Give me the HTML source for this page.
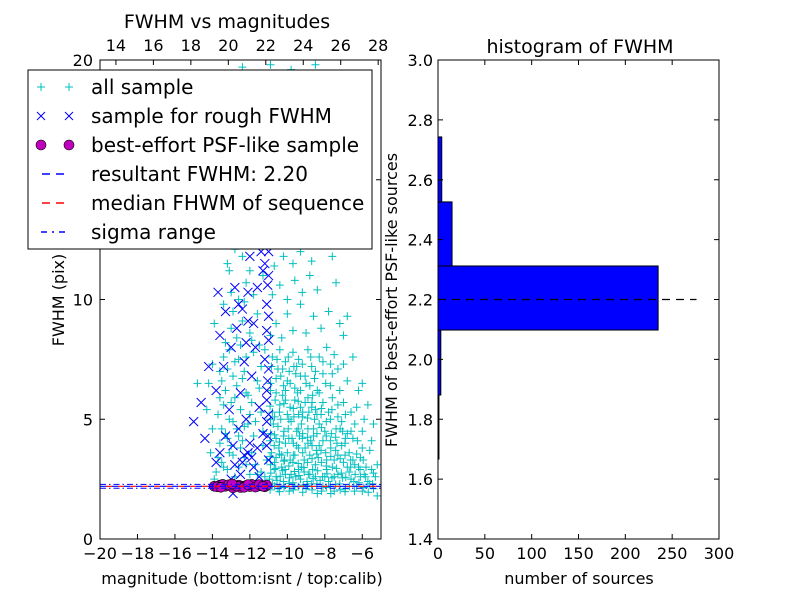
<!DOCTYPE html>
<html><head><meta charset="utf-8">
<style>
html,body{margin:0;padding:0;background:#fff;}
svg{display:block;font-family:"DejaVu Sans","Liberation Sans",sans-serif;}
</style></head>
<body>
<svg id="fig" width="800" height="600" viewBox="0 0 800 600" xmlns="http://www.w3.org/2000/svg">
<rect x="0" y="0" width="800" height="600" fill="#fff"/>
<g id="left"></g>
<g id="right"></g>
</svg>
<script>
// ---------- data: left scatter ----------
const allSample = [
[-10.8,2.3],[-10.5,2.1],[-10.2,2.4],[-9.9,2.0],[-9.6,2.2],[-9.3,2.5],[-9.0,2.1],[-8.7,2.3],[-8.4,1.9],[-8.1,2.2],[-7.8,2.4],[-7.5,2.0],[-7.2,2.3],[-6.9,2.1],[-6.6,2.5],[-6.3,2.2],[-6.0,2.0],[-5.7,2.4],[-5.4,2.1],[-10.6,2.6],[-9.8,2.7],[-9.1,2.8],[-8.5,2.6],[-7.9,2.9],[-7.3,2.7],[-6.7,2.8],[-6.1,2.6],[-5.5,2.9],[-5.2,1.8],
[-10.9,3.1],[-10.6,3.4],[-10.3,3.0],[-10.0,3.6],[-9.7,3.2],[-9.4,3.8],[-9.1,3.3],[-8.8,3.5],[-8.5,3.1],[-8.2,3.7],[-7.9,3.3],[-7.6,3.0],[-7.3,3.5],[-7.0,3.2],[-6.7,3.6],[-6.4,3.1],[-6.1,3.4],[-5.8,3.0],[-10.7,3.9],[-10.1,4.0],[-9.5,3.9],[-8.9,4.0],[-8.3,3.9],[-7.7,4.1],[-7.1,3.9],[-6.5,4.2],[-5.6,3.7],
[-10.9,4.4],[-10.5,4.7],[-10.2,4.3],[-9.8,4.9],[-9.5,4.5],[-9.2,5.1],[-8.9,4.6],[-8.6,4.3],[-8.3,4.8],[-8.0,4.5],[-7.7,5.0],[-7.4,4.6],[-7.1,4.9],[-6.8,4.4],[-6.4,4.8],[-6.0,4.5],[-10.8,5.3],[-10.4,5.6],[-10.0,5.2],[-9.6,5.8],[-9.3,5.5],[-8.9,5.9],[-8.5,5.4],[-8.1,5.7],[-7.8,5.3],[-7.3,5.6],[-6.9,5.2],[-6.3,5.5],[-5.9,5.0],
[-10.9,6.2],[-10.6,6.7],[-10.2,6.4],[-9.9,7.0],[-9.6,6.3],[-9.3,6.8],[-9.0,6.5],[-8.7,7.2],[-8.4,6.2],[-8.1,6.9],[-7.7,6.4],[-7.3,7.1],[-6.8,6.6],[-10.8,7.6],[-10.4,7.9],[-10.1,7.4],[-9.7,7.8],[-9.4,7.5],[-8.9,7.9],[-8.3,7.6],[-7.9,8.0],[-7.5,7.7],
[-10.9,8.5],[-10.6,9.0],[-10.3,8.4],[-10.0,9.4],[-9.7,8.7],[-9.3,9.8],[-9.0,8.6],[-8.6,9.3],[-8.2,8.8],[-7.8,9.5],[-10.8,10.2],[-10.4,10.6],[-10.0,10.0],[-9.6,10.8],[-9.2,10.3],[-8.8,11.0],[-8.4,10.4],[-10.7,11.4],[-10.2,11.8],[-9.7,11.5],[-9.3,12.0],[-8.7,11.6],[-8.0,12.3],[-7.4,10.7],[-6.8,9.3],[-7.0,7.3],
[-10.9,12.6],[-10.5,13.2],[-10.1,12.8],[-9.6,13.6],[-9.1,13.0],[-10.8,14.1],[-10.3,14.6],[-9.8,14.3],[-9.3,15.0],[-8.8,14.5],[-10.6,15.7],[-10.0,16.2],[-9.5,15.9],[-8.9,16.6],[-10.7,17.3],[-10.2,17.9],[-9.6,17.5],[-9.0,18.3],[-10.4,19.0],[-9.8,19.6],[-9.2,19.3],[-8.5,19.8],[-10.9,19.8],[-8.3,17.0],[-7.9,15.3],[-7.5,13.8],[-8.2,13.4],
[-13.8,2.8],[-13.5,3.2],[-13.2,2.9],[-12.9,3.5],[-12.6,3.0],[-12.3,3.4],[-12.0,2.7],[-11.7,3.1],[-11.4,2.8],[-11.1,3.3],[-13.6,4.0],[-13.3,4.4],[-13.0,3.9],[-12.7,4.6],[-12.4,4.1],[-12.1,4.8],[-11.8,4.3],[-11.3,4.5],[-13.7,5.2],[-13.4,5.6],[-13.1,5.0],[-12.8,5.9],[-12.5,5.4],[-12.2,6.1],[-11.9,5.7],[-11.5,6.3],[-13.5,6.6],[-13.2,7.1],[-12.9,6.8],[-12.6,7.5],[-12.3,7.0],[-11.8,7.8],[-11.4,7.2],[-13.3,8.2],[-13.0,8.8],[-12.7,8.4],[-12.4,9.1],[-12.0,8.6],[-11.6,9.4],[-13.4,9.8],[-13.0,10.3],[-12.6,10.0],[-12.2,10.7],[-11.8,10.2],[-11.3,11.0],[-13.2,11.5],[-12.8,12.1],[-12.4,11.8],[-11.9,12.5],[-11.5,12.2],[-13.0,13.3],[-12.5,13.8],[-12.1,13.4],[-11.6,14.2],[-12.9,15.0],[-12.3,15.6],[-11.8,15.2],[-12.6,16.8],[-12.0,17.4],[-11.4,16.5],[-12.8,18.5],[-12.2,19.1],[-11.6,18.8],[-14.2,6.5],[-14.8,6.5],[-14.0,7.3],[-13.9,9.0],[-14.1,3.6],
[-6.2,3.0],[-5.9,2.7],[-5.6,2.3],[-5.3,2.6],[-6.5,3.3],[-6.0,3.8],[-5.5,4.1],[-5.2,3.1],[-6.9,4.2],
[-10.95,2.5],[-10.7,2.9],[-10.4,2.2],[-10.1,2.7],[-9.85,3.3],[-9.55,2.6],[-9.25,3.0],[-8.95,2.4],[-8.65,2.9],[-8.35,3.4],[-10.85,3.6],[-10.45,3.8],[-10.15,3.3],[-9.75,4.2],[-9.35,4.3],[-9.05,3.8],[-8.75,4.1],[-8.45,3.7],[-10.75,4.8],[-10.35,5.0],[-9.95,4.6],[-9.65,5.1],[-9.25,4.8],[-8.85,5.3],[-8.55,5.0],[-10.65,5.8],[-10.25,6.0],[-9.85,5.5],[-9.45,6.1],[-9.05,5.7],[-8.65,6.0],[-10.5,7.1],[-10.0,6.6],[-9.5,7.2],[-7.95,3.6],[-7.65,4.4],[-7.35,4.0],[-7.05,4.5],[-7.5,2.6],[-8.0,2.6],
[-10.55,2.45],[-10.25,2.85],[-9.7,2.35],[-9.4,2.9],[-9.15,2.25],[-8.8,2.7],[-8.25,2.45],[-7.7,2.2],[-7.05,2.55],[-6.45,2.4],[-10.6,4.2],[-10.3,3.5],[-9.6,3.5],[-9.2,4.2],[-8.6,4.6],[-8.1,4.1],[-7.5,3.3],[-6.8,3.0],[-10.9,5.0],[-10.1,5.8],[-9.4,5.2],[-8.7,5.5],[-8.2,5.2],[-7.6,5.9],
[-10.92,2.05],[-10.68,2.2],[-10.42,1.98],[-10.18,2.15],[-9.92,2.32],[-9.68,2.05],[-9.42,2.18],[-9.18,1.95],[-8.92,2.22],[-8.68,2.05],[-8.42,2.3],[-8.18,2.0],[-7.92,2.15],[-7.68,1.9],[-7.42,2.28],[-7.18,2.05],[-6.92,1.98],[-6.68,2.2],[-6.42,2.0],[-6.18,2.35],[-5.92,2.15],[-5.68,1.95],[-5.45,2.3],
[-10.88,2.75],[-10.62,2.95],[-10.38,2.62],[-10.12,2.9],[-9.88,2.55],[-9.62,2.82],[-9.38,2.65],[-9.12,2.98],[-8.88,2.7],[-8.62,2.52],[-8.38,2.85],[-8.12,2.6],[-7.88,2.72],[-7.62,2.55],[-7.38,2.95],[-7.12,2.75],[-6.88,2.58],[-6.62,3.0],[-6.38,2.7],[-6.12,2.9],[-5.82,2.6],[-5.4,2.75],
[-10.92,3.45],[-10.68,3.2],[-10.42,3.55],[-10.18,3.25],[-9.92,3.05],[-9.68,3.5],[-9.42,3.15],[-9.18,3.6],[-8.92,3.2],[-8.68,3.35],[-8.42,3.55],[-8.18,3.2],[-7.92,3.05],[-7.68,3.45],[-7.42,3.7],[-7.18,3.35],[-6.92,3.5],[-6.62,3.3],[-6.3,3.55],[-5.95,3.3],
[-10.92,4.1],[-10.68,4.35],[-10.42,4.05],[-10.18,4.5],[-9.92,4.2],[-9.68,4.0],[-9.42,4.6],[-9.18,4.4],[-8.92,4.25],[-8.68,3.9],[-8.42,4.4],[-8.18,4.65],[-7.92,4.3],[-7.68,3.8],[-7.42,4.25],[-7.18,4.6],[-6.92,4.0],[-6.6,4.5],[-6.25,4.1],
[-10.92,5.55],[-10.68,5.1],[-10.42,5.3],[-10.18,5.65],[-9.92,5.0],[-9.68,5.45],[-9.42,5.75],[-9.18,5.3],[-8.92,5.05],[-8.68,5.7],[-8.42,5.2],[-8.18,5.45],[-7.92,4.9],[-7.62,5.4],[-7.3,5.1],[-7.0,5.7],[-6.6,5.3],
[-10.9,6.5],[-10.6,6.1],[-10.35,6.8],[-10.1,6.2],[-9.85,6.5],[-9.55,6.9],[-9.3,6.2],[-9.05,6.8],[-8.8,6.4],[-8.55,6.7],[-8.3,6.1],[-7.95,6.5],[-7.6,6.9],[-7.2,6.2],
[-10.85,7.2],[-10.55,7.5],[-10.25,7.1],[-9.95,7.6],[-9.65,7.2],[-9.2,7.3],[-8.75,7.6],[-8.5,7.0],[-8.1,7.4],[-7.7,7.3],
[-13.7,3.4],[-13.4,3.0],[-13.1,3.6],[-12.8,2.6],[-12.5,3.8],[-12.2,3.1],[-11.9,3.6],[-11.6,2.7],[-11.3,3.9],[-13.5,4.6],[-13.2,4.2],[-12.9,4.9],[-12.6,4.3],[-12.3,4.7],[-12.0,5.2],[-11.7,4.9],[-11.4,5.3],[-13.6,5.9],[-13.3,6.2],[-13.0,5.7],[-12.7,6.4],[-12.4,6.7],[-12.1,6.0],[-11.6,6.6],[-13.4,7.6],[-13.1,7.9],[-12.8,7.4],[-12.5,8.1],[-12.2,7.6],[-11.9,8.3],[-11.5,8.1],[-13.6,7.0],[-14.0,4.6],[-14.3,5.4],[-13.9,2.5],[-11.2,2.6],[-11.2,7.9],[-12.9,9.5],[-12.3,9.9],[-13.1,11.2],[-12.0,11.2],[-13.4,12.7],[-12.2,14.5],[-13.2,14.2],[-11.4,13.6],[-13.3,17.5],[-11.7,17.9],[-12.4,19.7],[-11.3,19.4],[-8.0,18.8],[-7.6,11.8],[-7.2,9.0],[-6.5,7.6],[-6.2,6.2],[-5.7,5.6],[-5.4,4.8],[-6.0,6.5],[-7.0,8.5]
];
const roughSample = [
[-15.0,4.9],[-14.6,5.7],[-14.4,4.2],[-13.8,3.2],[-13.6,3.6],[-13.3,4.3],[-13.1,5.4],[-12.9,3.9],[-12.8,3.1],[-12.6,4.6],[-12.5,6.1],[-12.3,3.5],[-12.2,5.0],[-12.0,4.0],[-11.9,6.8],[-11.8,3.0],[-11.6,3.8],[-11.5,5.5],[-11.3,4.4],[-11.2,7.5],[-11.1,6.2],[-11.0,3.3],[-13.4,7.2],[-13.0,8.0],[-12.7,8.8],[-12.4,9.6],[-12.1,10.3],[-11.8,9.0],[-11.6,10.5],[-11.3,11.2],[-11.1,9.8],[-11.0,8.3],[-12.0,11.8],[-11.4,12.0],[-11.2,11.5],[-13.3,9.5],[-13.6,8.5],[-12.8,10.5],[-12.3,7.4],[-11.7,8.0],[-11.1,4.9],[-12.7,2.2],[-12.9,1.9],[-11.1,5.8],[-13.8,6.2],[-12.9,12.8],[-11.9,3.4],[-11.5,2.6],[-12.5,2.7],[-13.0,2.5],[-11.0,12.0],[-14.2,7.2],[-13.7,10.3],
[-12.4,3.2],[-12.1,3.6],[-11.1,3.9],[-11.05,4.3],[-11.0,5.2],[-11.05,6.6],[-11.0,7.1],[-11.1,8.7],[-11.0,9.3],[-11.05,10.6],[-11.0,11.0],[-11.1,12.5],[-12.2,8.2],[-12.1,9.1],[-12.6,9.8]
];
const psfSample = [
[-13.9,2.2],[-13.6,2.25],[-13.3,2.2],[-13.0,2.22],[-12.8,2.18],[-12.6,2.25],[-12.4,2.2],[-12.2,2.23],[-12.0,2.19],[-11.8,2.24],[-11.6,2.2],[-11.4,2.22],[-11.2,2.18],[-11.1,2.25],[-13.45,2.28],[-12.9,2.14],[-12.5,2.15],[-11.9,2.28],
[-13.75,2.18],[-13.15,2.26],[-12.7,2.21],[-12.3,2.16],[-12.1,2.27],[-11.7,2.17],[-11.5,2.27],[-11.3,2.2],[-13.55,2.16],[-12.95,2.3]
];
const resultFWHM = 2.20;
const medianFWHM = 2.20;
const sigmaRange = [2.12, 2.28];
const bottomTicks = [-20,-18,-16,-14,-12,-10,-8,-6];
const topTicks = [14,16,18,20,22,24,26,28];
const leftYTicks = [0,5,10,15,20];
// ---------- data: histogram ----------
const binEdges = [1.667,1.881,2.098,2.312,2.526,2.743];
const binCounts = [1,3,235,15,4];
const histYTicks = [1.4,1.6,1.8,2.0,2.2,2.4,2.6,2.8,3.0];
const histXTicks = [0,50,100,150,200,250,300];
const histRefLength = 276;

const NS = "http://www.w3.org/2000/svg";
function mk(parent, tag, attrs, text){
  const e = document.createElementNS(NS, tag);
  for (const k in attrs) e.setAttribute(k, attrs[k]);
  if (text !== undefined) e.textContent = text;
  parent.appendChild(e);
  return e;
}
const fmtMinus = v => (v < 0 ? "\u2212" + Math.abs(v) : String(v));

// ---------- left chart ----------
const L = {x0:100, x1:381, y0:60, y1:539, xmin:-20, xmax:-5, ymin:0, ymax:20, topOffset:33.15};
const lx = v => L.x0 + (v - L.xmin) / (L.xmax - L.xmin) * (L.x1 - L.x0);
const ly = v => L.y1 - (v - L.ymin) / (L.ymax - L.ymin) * (L.y1 - L.y0);
const left = document.getElementById("left");

const clip = mk(left, "clipPath", {id:"lclip"});
mk(clip, "rect", {x:L.x0, y:L.y0, width:L.x1-L.x0, height:L.y1-L.y0});
const plot = mk(left, "g", {"clip-path":"url(#lclip)"});



const gAll = mk(plot, "g", {stroke:"#00bfbf", "stroke-width":"1", fill:"none"});


allSample.forEach(p => {
  const cx = lx(p[0]), cy = ly(p[1]);
  const m = mk(gAll, "path", {d:`M${cx-4},${cy}H${cx+4}M${cx},${cy-4}V${cy+4}`});
  
  
});
const gRough = mk(plot, "g", {stroke:"#0000ff", "stroke-width":"1", fill:"none"});


roughSample.forEach(p => {
  const cx = lx(p[0]), cy = ly(p[1]);
  const m = mk(gRough, "path", {d:`M${cx-4.5},${cy-4.5}L${cx+4.5},${cy+4.5}M${cx-4.5},${cy+4.5}L${cx+4.5},${cy-4.5}`});
  
  
});
const gPsf = mk(plot, "g", {stroke:"#000", "stroke-width":"0.6", fill:"#bf00bf"});


psfSample.forEach(p => {
  const m = mk(gPsf, "circle", {cx:lx(p[0]), cy:ly(p[1]), r:5});
  
  
});
sigmaRange.forEach(v => {
  const l = mk(plot, "line", {x1:L.x0, x2:L.x1, y1:ly(v), y2:ly(v), stroke:"#0000ff", "stroke-width":"1", "stroke-dasharray":"6,3,1.5,3"});
  
  
});
const rl = mk(plot, "line", {x1:L.x0, x2:L.x1, y1:ly(resultFWHM), y2:ly(resultFWHM), stroke:"#0000ff", "stroke-width":"1.2", "stroke-dasharray":"6,6"});


const ml = mk(plot, "line", {x1:L.x0, x2:L.x1, y1:ly(medianFWHM), y2:ly(medianFWHM), stroke:"#ff0000", "stroke-width":"1.2", "stroke-dasharray":"6,6", "stroke-dashoffset":"6"});



// left frame and ticks
const lf = mk(left, "rect", {x:L.x0, y:L.y0, width:L.x1-L.x0, height:L.y1-L.y0, fill:"none", stroke:"#000", "stroke-width":"1"});


bottomTicks.forEach(v => {
  const x = lx(v);
  mk(left, "line", {x1:x, x2:x, y1:L.y1, y2:L.y1-5, stroke:"#000"});
  const t = mk(left, "text", {x:x, y:L.y1+20, "font-size":"16", "text-anchor":"middle"}, fmtMinus(v));
  
  
});
topTicks.forEach(v => {
  const x = lx(v - L.topOffset);
  mk(left, "line", {x1:x, x2:x, y1:L.y0, y2:L.y0+5, stroke:"#000"});
  const t = mk(left, "text", {x:x, y:L.y0-9, "font-size":"16", "text-anchor":"middle"}, String(v));
  
  
});
leftYTicks.forEach(v => {
  const y = ly(v);
  mk(left, "line", {x1:L.x0, x2:L.x0+5, y1:y, y2:y, stroke:"#000"});
  mk(left, "line", {x1:L.x1, x2:L.x1-5, y1:y, y2:y, stroke:"#000"});
  const t = mk(left, "text", {x:L.x0-7, y:y+6, "font-size":"16", "text-anchor":"end"}, String(v));
  
  
});
let t;
t = mk(left, "text", {x:227, y:28, "font-size":"19", "text-anchor":"middle"}, "FWHM vs magnitudes");


t = mk(left, "text", {x:242, y:584, "font-size":"16", "text-anchor":"middle"}, "magnitude (bottom:isnt / top:calib)");


t = mk(left, "text", {x:0, y:0, "font-size":"16", "text-anchor":"middle", transform:"translate(64,300) rotate(-90)"}, "FWHM (pix)");



// legend
const leg = mk(left, "g", {});


mk(leg, "rect", {x:28, y:70, width:344, height:179, fill:"#fff", stroke:"#000", "stroke-width":"1"});
const legLabels = ["all sample","sample for rough FWHM","best-effort PSF-like sample","resultant FWHM: 2.20","median FHWM of sequence","sigma range"];
legLabels.forEach((lab, i) => {
  const y = 87 + i * 29;
  const row = mk(leg, "g", {});
  
  
  [41, 69].forEach(x => {
    if (i === 0) mk(row, "path", {d:`M${x-4},${y}H${x+4}M${x},${y-4}V${y+4}`, stroke:"#00bfbf", fill:"none"});
    if (i === 1) mk(row, "path", {d:`M${x-4},${y-4}L${x+4},${y+4}M${x-4},${y+4}L${x+4},${y-4}`, stroke:"#0000ff", fill:"none"});
    if (i === 2) mk(row, "circle", {cx:x, cy:y, r:5, fill:"#bf00bf", stroke:"#000", "stroke-width":"0.6"});
  });
  if (i === 3) mk(row, "line", {x1:41, x2:69, y1:y, y2:y, stroke:"#0000ff", "stroke-width":"1.5", "stroke-dasharray":"8,6", "stroke-dashoffset":"-1"});
  if (i === 4) mk(row, "line", {x1:41, x2:69, y1:y, y2:y, stroke:"#ff0000", "stroke-width":"1.5", "stroke-dasharray":"8,6", "stroke-dashoffset":"-1"});
  if (i === 5) mk(row, "line", {x1:41, x2:69, y1:y, y2:y, stroke:"#0000ff", "stroke-width":"1.5", "stroke-dasharray":"6,5,2,5"});
  mk(row, "text", {x:91, y:y+7, "font-size":"20"}, lab);
});

// ---------- right chart ----------
const R = {x0:438, x1:719, y0:60, y1:539, xmin:0, xmax:300, ymin:1.4, ymax:3.0};
const rx = v => R.x0 + (v - R.xmin) / (R.xmax - R.xmin) * (R.x1 - R.x0);
const ry = v => R.y1 - (v - R.ymin) / (R.ymax - R.ymin) * (R.y1 - R.y0);
const right = document.getElementById("right");
binCounts.forEach((c, i) => {
  const yTop = ry(binEdges[i+1]), yBot = ry(binEdges[i]);
  const b = mk(right, "rect", {x:rx(0), y:yTop, width:rx(c)-rx(0), height:yBot-yTop, fill:"#0000ff", stroke:"#000", "stroke-width":"1"});
  
  
});
const hl = mk(right, "line", {x1:rx(0), x2:rx(histRefLength), y1:ry(resultFWHM), y2:ry(resultFWHM), stroke:"#000", "stroke-width":"1.2", "stroke-dasharray":"8,6"});


const rf = mk(right, "rect", {x:R.x0, y:R.y0, width:R.x1-R.x0, height:R.y1-R.y0, fill:"none", stroke:"#000", "stroke-width":"1"});


histXTicks.forEach(v => {
  const x = rx(v);
  mk(right, "line", {x1:x, x2:x, y1:R.y1, y2:R.y1-5, stroke:"#000"});
  mk(right, "line", {x1:x, x2:x, y1:R.y0, y2:R.y0+5, stroke:"#000"});
  const tt = mk(right, "text", {x:x, y:R.y1+20, "font-size":"16", "text-anchor":"middle"}, String(v));
  
  
});
histYTicks.forEach(v => {
  const y = ry(v);
  mk(right, "line", {x1:R.x0, x2:R.x0+5, y1:y, y2:y, stroke:"#000"});
  mk(right, "line", {x1:R.x1, x2:R.x1-5, y1:y, y2:y, stroke:"#000"});
  const tt = mk(right, "text", {x:R.x0-5, y:y+6, "font-size":"16", "text-anchor":"end"}, v.toFixed(1));
  
  
});
t = mk(right, "text", {x:580, y:53, "font-size":"19", "text-anchor":"middle"}, "histogram of FWHM");


t = mk(right, "text", {x:579, y:584, "font-size":"16", "text-anchor":"middle"}, "number of sources");


t = mk(right, "text", {x:0, y:0, "font-size":"16", "text-anchor":"middle", transform:"translate(397,300) rotate(-90)"}, "FWHM of best-effort PSF-like sources");


</script>
</body></html>
